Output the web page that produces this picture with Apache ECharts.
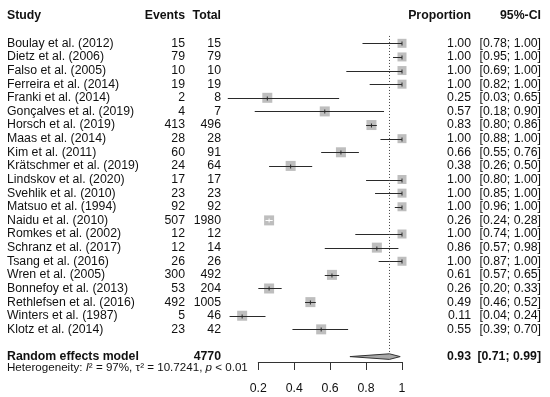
<!DOCTYPE html>
<html><head><meta charset="utf-8">
<script src="https://cdn.jsdelivr.net/npm/echarts@6/dist/echarts.min.js"></script>
<style>html,body{margin:0;padding:0;background:#fff}#c{width:550px;height:397px}</style>
</head><body><div id="c"></div>
<script>
const studies = ["Boulay et al. (2012)","Dietz et al. (2006)","Falso et al. (2005)","Ferreira et al. (2014)","Franki et al. (2014)","Gonçalves et al. (2019)","Horsch et al. (2019)","Maas et al. (2014)","Kim et al. (2011)","Krätschmer et al. (2019)","Lindskov et al. (2020)","Svehlik et al. (2010)","Matsuo et al. (1994)","Naidu et al. (2010)","Romkes et al. (2002)","Schranz et al. (2017)","Tsang et al. (2016)","Wren et al. (2005)","Bonnefoy et al. (2013)","Rethlefsen et al. (2016)","Winters et al. (1987)","Klotz et al. (2014)"];
const events = [15,79,10,19,2,4,413,28,60,24,17,23,92,507,12,12,26,300,53,492,5,23];
const totals = [15,79,10,19,8,7,496,28,91,64,17,23,92,1980,12,14,26,492,204,1005,46,42];
const proportions = [1.00,1.00,1.00,1.00,0.25,0.57,0.83,1.00,0.66,0.38,1.00,1.00,1.00,0.26,1.00,0.86,1.00,0.61,0.26,0.49,0.11,0.55];
const ciLower = [0.78,0.95,0.69,0.82,0.03,0.18,0.80,0.88,0.55,0.26,0.80,0.85,0.96,0.24,0.74,0.57,0.87,0.57,0.20,0.46,0.04,0.39];
const ciUpper = [1.00,1.00,1.00,1.00,0.65,0.90,0.86,1.00,0.76,0.50,1.00,1.00,1.00,0.28,1.00,0.98,1.00,0.65,0.33,0.52,0.24,0.70];
const pooledLabel = "Random effects model";
const pooledTotal = 4770;
const pooledEstimate = [0.93];
const pooledLower = [0.71];
const pooledUpper = [0.99];
const headers = ["Study","Events","Total","Proportion","95%-CI"];
const hetI2 = "97%";
const hetTau2 = "10.7241";
const hetP = "0.01";
const xTickMin = 0.2, xTickMax = 1, xTickStep = 0.2;

const FONT = '"Liberation Sans", Arial, Helvetica, sans-serif';
const FS = 12.3;
const TXT = '#111';
const COL = {study: 7, events: 185, total: 221, prop: 471, ci: 541};
const ROW_HEADER = -2, ROW_POOLED = 23, ROW_HET = 23.85;

function fmt(v){ return v.toFixed(2); }
function ciStr(l,u){ return '[' + fmt(l) + '; ' + fmt(u) + ']'; }
function txt(x, y, s, align, bold){
  return {type:'text', x:x, y:y, style:{text:s, fill:TXT, font:(bold?'bold ':'') + FS + 'px ' + FONT, textAlign:align, textVerticalAlign:'middle'}};
}

const chart = echarts.init(document.getElementById('c'), null, {renderer:'canvas'});

const studyData = studies.map((s,i)=>[i, proportions[i], ciLower[i], ciUpper[i]]);

function renderStudy(params, api){
  const row = api.value(0), p = api.value(1), lo = api.value(2), hi = api.value(3);
  const c = api.coord([p,row]), l = api.coord([lo,row]), h = api.coord([hi,row]);
  const s = p >= 1 ? 9 : 10;
  const inside = l[0] > c[0]-s/2 && h[0] < c[0]+s/2;
  const y = Math.round(c[1]) + 0.5;
  const col = inside ? '#fff' : '#2a2a2a';
  return {type:'group', children:[
    {type:'rect', shape:{x:c[0]-s/2, y:c[1]-s/2, width:s, height:s}, style:{fill:'#bebebe'}},
    {type:'line', shape:{x1:l[0], y1:y, x2:h[0], y2:y}, style:{stroke:col, lineWidth:1}},
    {type:'line', shape:{x1:c[0], y1:y-2, x2:c[0], y2:y+2}, style:{stroke:col, lineWidth:1}}
  ]};
}

function renderText(params, api){
  const i = params.dataIndex;
  const y = api.coord([0, i])[1];
  return {type:'group', children:[
    txt(COL.study, y, studies[i], 'left'),
    txt(COL.events, y, String(events[i]), 'right'),
    txt(COL.total, y, String(totals[i]), 'right'),
    txt(COL.prop, y, fmt(proportions[i]), 'right'),
    txt(COL.ci, y, ciStr(ciLower[i], ciUpper[i]), 'right')
  ]};
}

function renderExtra(params, api){
  const yh = api.coord([0, ROW_HEADER])[1];
  const yp = api.coord([0, ROW_POOLED])[1];
  const yhet = api.coord([0, ROW_HET])[1];
  const est = pooledEstimate[0], lo = pooledLower[0], hi = pooledUpper[0];
  const cc = api.coord([est, ROW_POOLED]), cl = api.coord([lo, ROW_POOLED]), ch = api.coord([hi, ROW_POOLED]);
  const top = api.coord([est, -0.54]);
  const dh = 2.8;
  const xd = Math.round(cc[0]) + 0.5;
  return {type:'group', children:[
    txt(COL.study, yh, headers[0], 'left', true),
    txt(COL.events, yh, headers[1], 'right', true),
    txt(COL.total, yh, headers[2], 'right', true),
    txt(COL.prop, yh, headers[3], 'right', true),
    txt(COL.ci, yh, headers[4], 'right', true),
    txt(COL.study, yp, pooledLabel, 'left', true),
    txt(COL.total, yp, String(pooledTotal), 'right', true),
    txt(COL.prop, yp, fmt(est), 'right', true),
    txt(COL.ci, yp, ciStr(lo, hi), 'right', true),
    {type:'line', shape:{x1:xd, y1:top[1], x2:xd, y2:cc[1]-dh}, style:{stroke:'#444', lineWidth:1, lineDash:[1,2]}},
    {type:'polygon', shape:{points:[[cl[0],cc[1]],[cc[0],cc[1]-dh],[ch[0],cc[1]],[cc[0],cc[1]+dh]]}, style:{fill:'#a8a8a8', stroke:'#333', lineWidth:1}},
    {type:'text', x:COL.study, y:yhet, style:{
      text:'Heterogeneity: {i|I}² = ' + hetI2 + ', τ² = ' + hetTau2 + ', {i|p} < ' + hetP,
      font: '11.6px ' + FONT, fill:TXT, textVerticalAlign:'middle',
      rich:{i:{fontStyle:'italic', fontSize:11.6, fontFamily:FONT, fill:TXT}}
    }}
  ]};
}

chart.setOption({
  animation:false,
  grid:[
    {left:222.4, width:179.6, top:2.44, height:381.4},
    {left:258.3, width:143.7, top:361, height:1}
  ],
  xAxis:[
    {gridIndex:0, type:'value', min:0, max:1, show:false},
    {gridIndex:1, type:'value', min:xTickMin, max:xTickMax, interval:xTickStep,
     axisLine:{show:true, lineStyle:{color:'#333', width:1}},
     axisTick:{show:true, length:8, lineStyle:{color:'#333', width:1}},
     axisLabel:{show:true, margin:21, fontSize:FS, fontFamily:FONT, color:TXT},
     splitLine:{show:false}}
  ],
  yAxis:[
    {gridIndex:0, type:'value', min:-3, max:25, inverse:true, show:false},
    {gridIndex:1, type:'value', min:0, max:1, show:false}
  ],
  series:[
    {type:'custom', xAxisIndex:0, yAxisIndex:0, data:studyData, encode:{x:[1,2,3], y:0}, renderItem:renderStudy, clip:false, silent:true},
    {type:'custom', xAxisIndex:0, yAxisIndex:0, data:studies.map((s,i)=>[0,i]), encode:{x:0, y:1}, renderItem:renderText, clip:false, silent:true},
    {type:'custom', xAxisIndex:0, yAxisIndex:0, data:[[pooledEstimate[0], ROW_POOLED]], encode:{x:0, y:1}, renderItem:renderExtra, clip:false, silent:true}
  ]
});
</script></body></html>
